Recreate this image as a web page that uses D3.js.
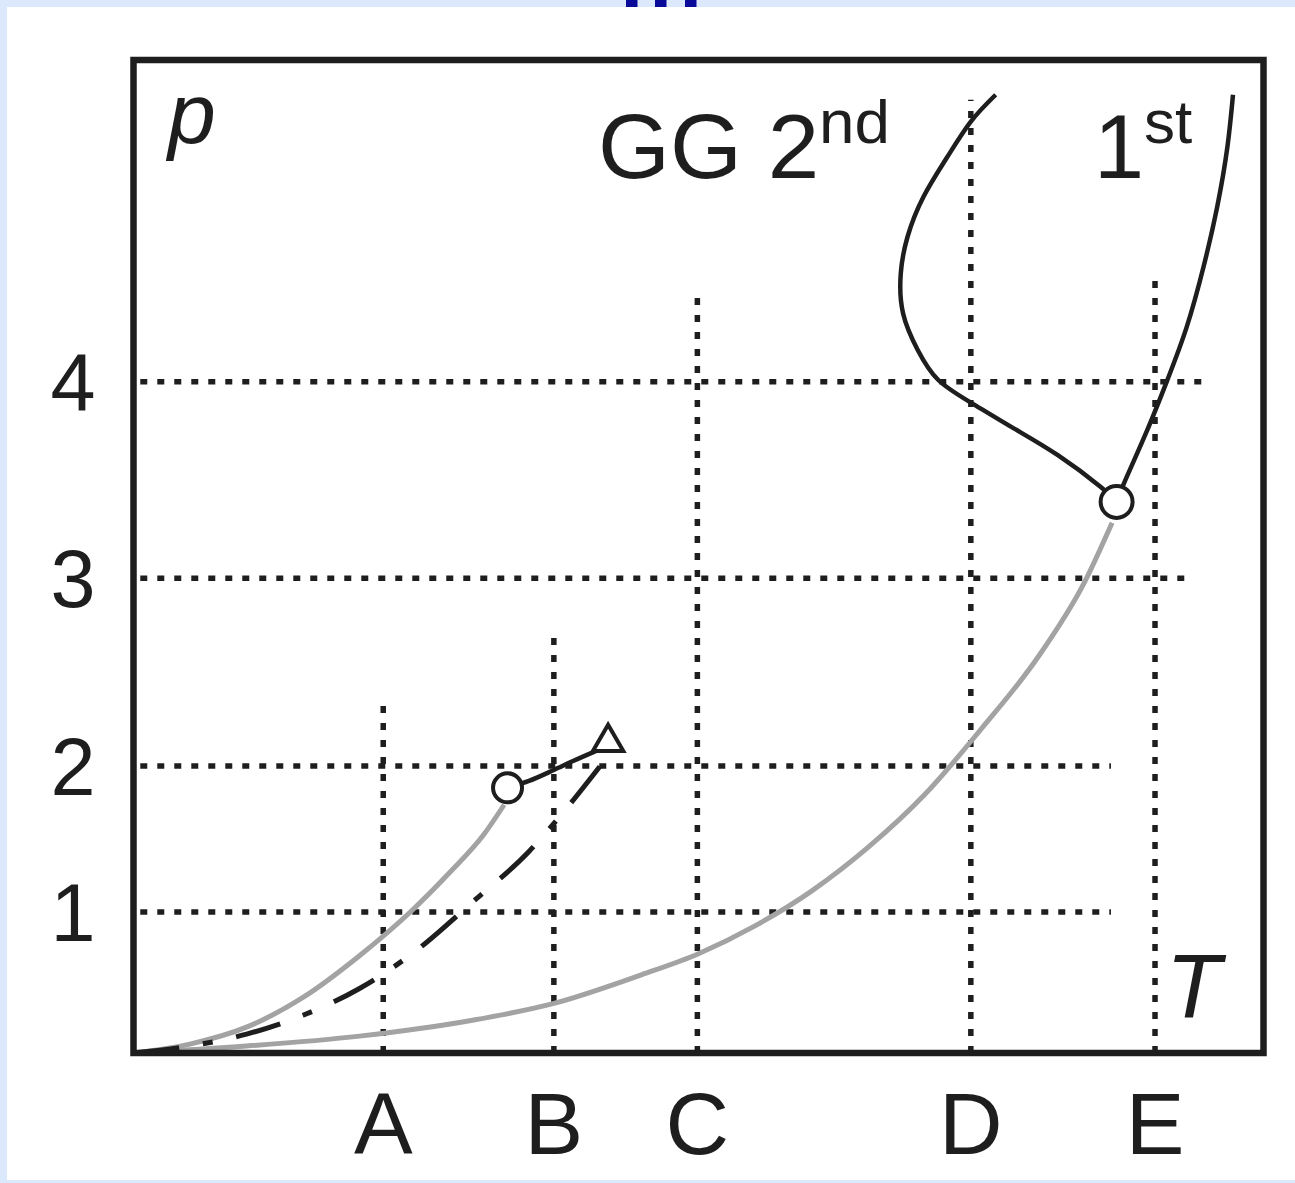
<!DOCTYPE html>
<html>
<head>
<meta charset="utf-8">
<script src="https://cdn.jsdelivr.net/npm/d3@7"></script>
<style>
  html, body { margin: 0; padding: 0; background: #dce9fc; }
  svg { display: block; }
</style>
</head>
<body>
<svg id="chart" width="1295" height="1183"></svg>
<script>
// ---------- data (T and p in arbitrary data units) ----------
const tLevels = ["A", "B", "C", "D", "E"];
const tValues = [22.1, 37.2, 49.9, 74.1, 90.4];
const tLineTops = [35.0, 41.8, 77.0, 96.0, 78.7];

const pLevels = ["1", "2", "3", "4"];
const pValues = [14.2, 28.9, 47.8, 67.6];
const pLineEnds = [86.5, 86.5, 93.2, 95.0];

// grey curve ending at the small critical point (circle)
const greySmallT = [0, 5, 10, 15, 20, 24.5, 28, 31, 32.8];
const greySmallP = [0, 0.9, 2.6, 5.6, 9.8, 14.2, 18.2, 22.0, 25.0];

// dash-dot curve ending at the triangle
const dashDotT = [0, 5, 10, 15, 20, 25, 30, 35, 38, 41.3];
const dashDotP = [0, 0.7, 1.9, 3.8, 6.5, 10.3, 15.2, 20.3, 24.2, 28.9];

// black connector circle -> triangle
const connT = [33.1, 35.0, 37.2, 38.9, 40.9];
const connP = [26.7, 27.4, 28.5, 29.4, 30.4];

// large grey curve ending just below the GG critical point
const greyBigT = [0, 10, 20, 30, 37.2, 45, 50, 55, 60, 65, 70, 75, 80, 84.2, 86.6];
const greyBigP = [0, 0.7, 1.7, 3.3, 5.0, 7.9, 10.0, 12.8, 16.3, 20.7, 26.0, 32.6, 39.8, 47.5, 53.4];

// 2nd-order boundary (re-entrant)
const secondT = [87.0, 85.6, 81.8, 77.9, 74.1, 71.2, 69.4, 68.1, 67.9, 68.5, 69.9, 72.0, 74.1, 76.3];
const secondP = [55.5, 57.0, 60.2, 62.9, 65.5, 67.8, 70.8, 74.5, 78.5, 82.2, 86.2, 90.2, 93.8, 96.5];

// 1st-order boundary
const firstT = [87.0, 87.7, 89.7, 91.5, 93.2, 94.7, 95.9, 96.8, 97.3];
const firstP = [55.5, 57.5, 62.7, 67.8, 73.1, 79.2, 85.2, 91.2, 96.5];

// markers
const circlePts = [{t: 33.1, p: 26.7}, {t: 87.0, p: 55.5}];
const trianglePts = [{t: 42.0, p: 31.3}];

// ---------- drawing ----------
const svg = d3.select("#chart");
const W = 1295, H = 1183;
const frame = {left: 133.5, right: 1263.5, top: 60, bottom: 1053};

// page background
svg.append("rect").attr("x", 0).attr("y", 0).attr("width", W).attr("height", H).attr("fill", "#dce9fc");
svg.append("rect").attr("x", 7).attr("y", 7).attr("width", W - 7).attr("height", 1180 - 7).attr("fill", "#ffffff");
// remnants of a title at the top
[626, 655, 685].forEach(x0 => {
  svg.append("rect").attr("x", x0).attr("y", 0).attr("width", 11.5).attr("height", 7).attr("fill", "#0a0a9a");
});

const x = d3.scaleLinear().domain([0, 100]).range([frame.left, frame.right]);
const y = d3.scaleLinear().domain([0, 100]).range([frame.bottom, frame.top]);

const ink = "#1e1e1e";
const g = svg.append("g");

// dotted grid lines
const dotDash = "7,10";
g.selectAll("line.vgrid").data(tValues).join("line")
  .attr("class", "vgrid")
  .attr("x1", d => x(d)).attr("x2", d => x(d))
  .attr("y1", y(0)).attr("y2", (d, i) => y(tLineTops[i]))
  .attr("stroke", ink).attr("stroke-width", 5.5).attr("stroke-dasharray", dotDash);

g.selectAll("line.hgrid").data(pValues).join("line")
  .attr("class", "hgrid")
  .attr("x1", x(0.6)).attr("x2", (d, i) => x(pLineEnds[i]))
  .attr("y1", d => y(d)).attr("y2", d => y(d))
  .attr("stroke", ink).attr("stroke-width", 5.5).attr("stroke-dasharray", dotDash);

const zip = (ts, ps) => ts.map((t, i) => [t, ps[i]]);
const lineFn = d3.line().x(d => x(d[0])).y(d => y(d[1])).curve(d3.curveMonotoneX);
const lineFree = d3.line().x(d => x(d[0])).y(d => y(d[1])).curve(d3.curveNatural);

// grey curves
g.append("path").datum(zip(greyBigT, greyBigP)).attr("d", lineFn)
  .attr("fill", "none").attr("stroke", "#a3a3a3").attr("stroke-width", 5);
g.append("path").datum(zip(greySmallT, greySmallP)).attr("d", lineFn)
  .attr("fill", "none").attr("stroke", "#a3a3a3").attr("stroke-width", 5);

// dash-dot curve
g.append("path").datum(zip(dashDotT, dashDotP)).attr("d", lineFn)
  .attr("fill", "none").attr("stroke", ink).attr("stroke-width", 5)
  .attr("stroke-dasharray", "46,24,10,24");

// black curves
g.append("path").datum(zip(connT, connP)).attr("d", lineFn)
  .attr("fill", "none").attr("stroke", ink).attr("stroke-width", 4.5);
g.append("path").datum(zip(secondT, secondP)).attr("d", lineFree)
  .attr("fill", "none").attr("stroke", ink).attr("stroke-width", 4.5);
g.append("path").datum(zip(firstT, firstP)).attr("d", lineFree)
  .attr("fill", "none").attr("stroke", ink).attr("stroke-width", 4.5);

// markers
const circleR = [14.5, 16];
g.selectAll("circle.cp").data(circlePts).join("circle")
  .attr("class", "cp")
  .attr("cx", d => x(d.t)).attr("cy", d => y(d.p)).attr("r", (d, i) => circleR[i])
  .attr("fill", "#fff").attr("stroke", ink).attr("stroke-width", 4);

g.selectAll("path.tri").data(trianglePts).join("path")
  .attr("class", "tri")
  .attr("transform", d => `translate(${x(d.t)},${y(d.p)})`)
  .attr("d", d3.symbol().type(d3.symbolTriangle).size(400))
  .attr("fill", "#fff").attr("stroke", ink).attr("stroke-width", 4).attr("stroke-linejoin", "miter");

// frame
svg.append("rect")
  .attr("x", frame.left).attr("y", frame.top)
  .attr("width", frame.right - frame.left).attr("height", frame.bottom - frame.top)
  .attr("fill", "none").attr("stroke", ink).attr("stroke-width", 6.5);

// axis labels
const font = "'Liberation Sans', Arial, Helvetica, sans-serif";
svg.selectAll("text.tlab").data(tLevels).join("text")
  .attr("class", "tlab")
  .attr("x", (d, i) => x(tValues[i])).attr("y", 1154)
  .attr("text-anchor", "middle")
  .attr("font-family", font).attr("font-size", 88).attr("fill", ink)
  .text(d => d);

svg.selectAll("text.plab").data(pLevels).join("text")
  .attr("class", "plab")
  .attr("x", 73).attr("y", (d, i) => y(pValues[i]) + 29)
  .attr("text-anchor", "middle")
  .attr("font-family", font).attr("font-size", 81).attr("fill", ink)
  .text(d => d);

// axis names
svg.append("text").attr("x", 168).attr("y", 143)
  .attr("font-family", font).attr("font-style", "italic").attr("font-size", 86).attr("fill", ink)
  .text("p");
svg.append("text").attr("x", 1166).attr("y", 1018)
  .attr("font-family", font).attr("font-style", "italic").attr("font-size", 90).attr("fill", ink)
  .text("T");

// transition labels
const gg = svg.append("text").attr("x", 598).attr("y", 178)
  .attr("font-family", font).attr("font-size", 90).attr("fill", ink)
  .attr("textLength", 292).attr("lengthAdjust", "spacingAndGlyphs");
gg.append("tspan").text("GG 2");
gg.append("tspan").attr("font-size", 62).attr("dy", -35).text("nd");

const fs = svg.append("text").attr("x", 1094).attr("y", 178)
  .attr("font-family", font).attr("font-size", 90).attr("fill", ink);
fs.append("tspan").text("1");
fs.append("tspan").attr("font-size", 62).attr("dy", -35).text("st");
</script>
</body>
</html>
